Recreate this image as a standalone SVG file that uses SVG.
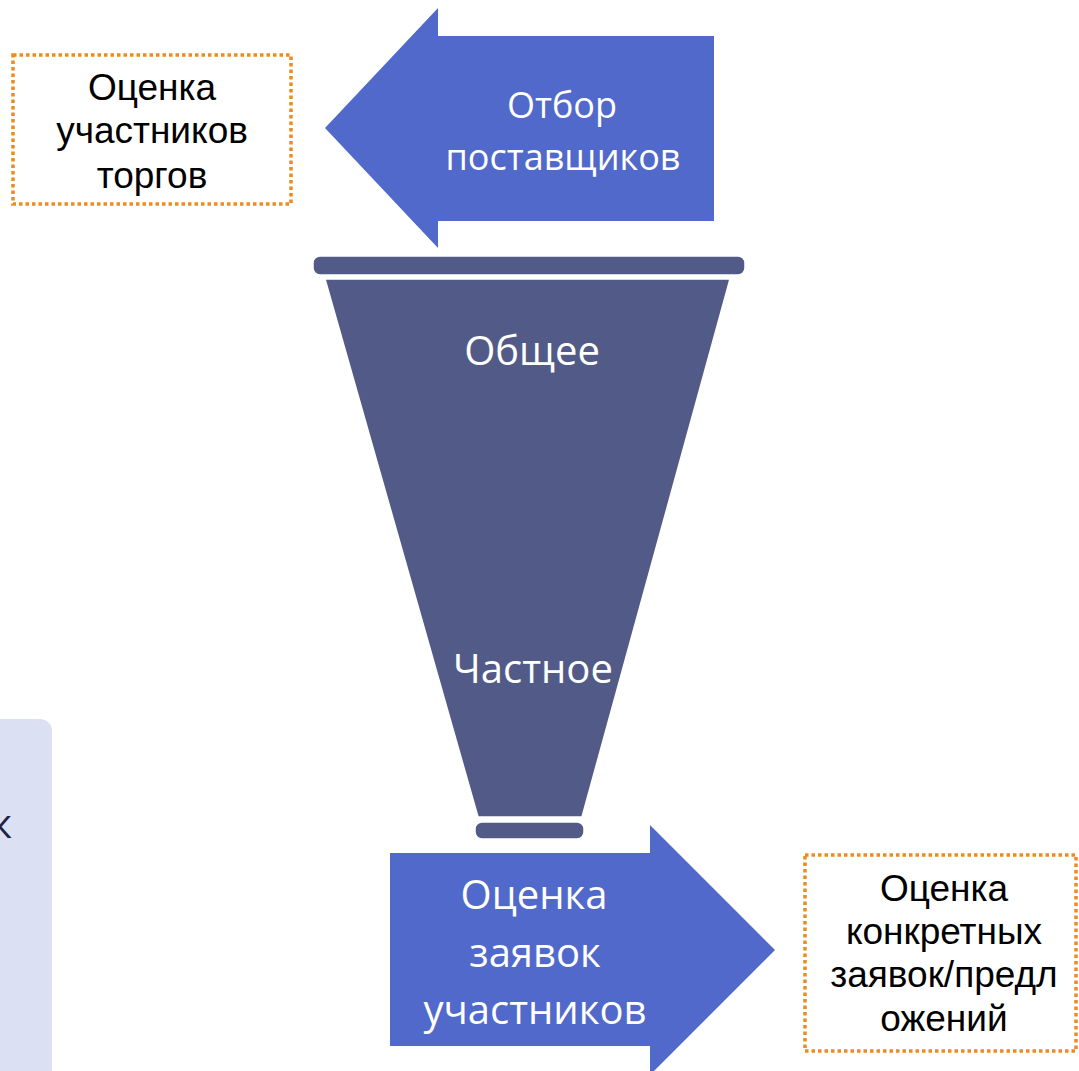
<svg xmlns="http://www.w3.org/2000/svg" width="1079" height="1071" viewBox="0 0 1079 1071">
<style>
.note{fill:#FFFFFF;stroke:#EE8A1E;stroke-width:3.5;stroke-dasharray:3.5 3}
.nt{font-family:"Liberation Sans",Arial,sans-serif;font-size:37px;fill:#000;text-anchor:middle}
.arrow{fill:#5169CA}
.wt{font-family:"Open Sans",sans-serif;fill:#FFFFFF;text-anchor:middle}
.fun{fill:#525B88;stroke:#FFFFFF;stroke-width:1.5}
</style>
<rect width="1079" height="1071" fill="#FFFFFF"/>
<g id="side-panel">
<rect x="-20" y="719" width="72" height="400" rx="12" fill="#DCE0F3"/>
<text x="12" y="838" font-family="Open Sans, sans-serif" font-size="40" fill="#1E2246" text-anchor="end">к</text>
</g>
<g id="note-top">
<rect class="note" x="13" y="55" width="278" height="149"/>
<text class="nt" x="152" y="100">Оценка</text>
<text class="nt" x="152" y="143">участников</text>
<text class="nt" x="152" y="188">торгов</text>
</g>
<g id="arrow-top">
<polygon class="arrow" points="325,128 438,8 438,36 714,36 714,221 438,221 438,248"/>
<text class="wt" x="562" y="118" font-size="36">Отбор</text>
<text class="wt" x="563" y="170" font-size="36">поставщиков</text>
</g>
<g id="funnel">
<rect class="fun" x="313" y="256" width="432" height="19" rx="7"/>
<polygon class="fun" points="325,279 730,279 582,817 478,817"/>
<rect class="fun" x="475" y="822" width="109" height="17" rx="7"/>
<text class="wt" x="532" y="365" font-size="40">Общее</text>
<text class="wt" x="533" y="683" font-size="40">Частное</text>
</g>
<g id="arrow-bottom">
<polygon class="arrow" points="390,853 650,853 650,825 775,950 650,1075 650,1046 390,1046"/>
<text class="wt" x="534" y="909" font-size="40">Оценка</text>
<text class="wt" x="535" y="967" font-size="40">заявок</text>
<text class="wt" x="535" y="1024" font-size="40">участников</text>
</g>
<g id="note-bottom">
<rect class="note" x="805" y="855" width="271" height="196"/>
<text class="nt" x="944" y="901">Оценка</text>
<text class="nt" x="944" y="944">конкретных</text>
<text class="nt" x="944" y="987">заявок/предл</text>
<text class="nt" x="944" y="1031">ожений</text>
</g>
<g id="connectors"/>
</svg>
